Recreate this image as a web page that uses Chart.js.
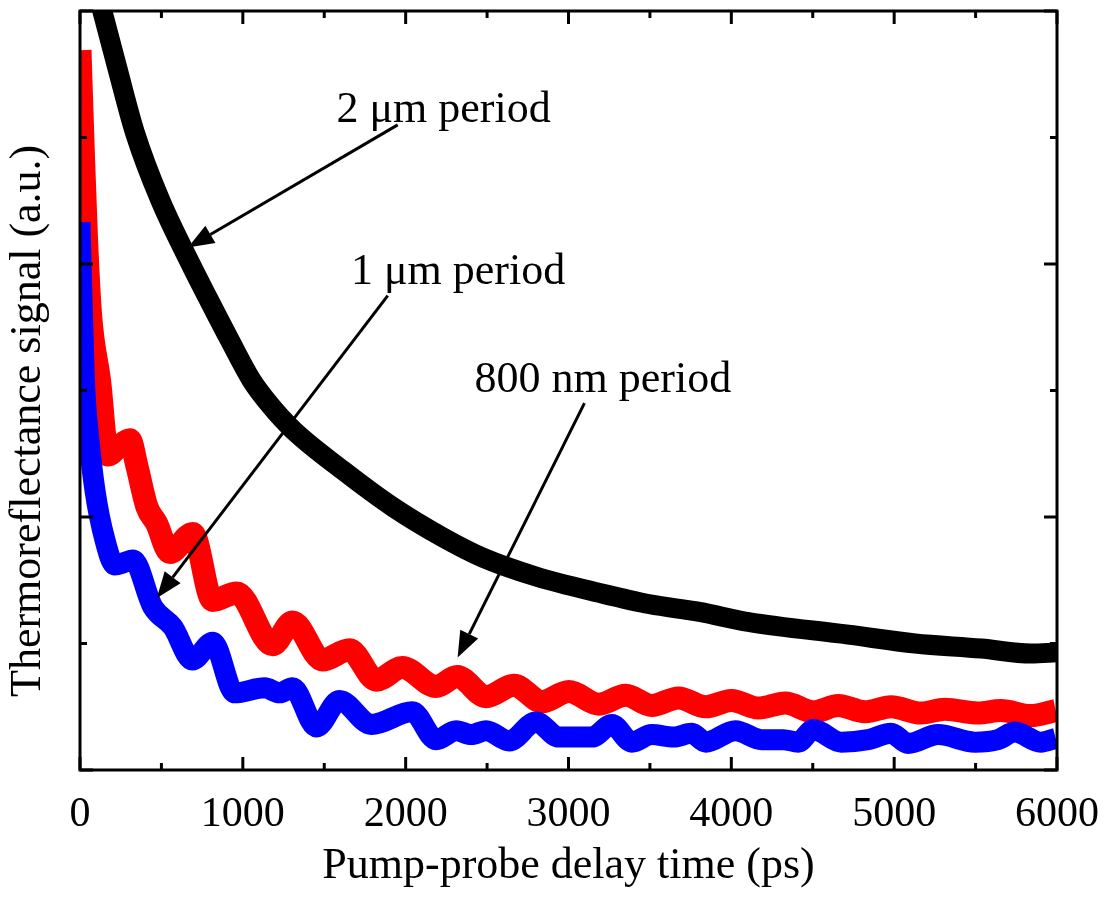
<!DOCTYPE html>
<html>
<head>
<meta charset="utf-8">
<script src="https://cdn.jsdelivr.net/npm/chart.js@4.4.1/dist/chart.umd.min.js"></script>
<style>
  html, body { margin: 0; padding: 0; background: #fff; }
</style>
</head>
<body>
<canvas id="chart" width="1111" height="897"></canvas>
<script>
// delay time (ps) and signal (a.u.)
const blackT = [60, 141, 227, 337, 491, 687, 790, 919, 1054, 1164, 1307, 1613, 1920, 2227, 2472, 2800, 3190, 3500, 3804, 4105, 4718, 5129, 5535, 5840, 6000];
const blackV = [6.4, 5.98, 5.56, 5.04, 4.51, 3.98, 3.72, 3.40, 3.08, 2.89, 2.69, 2.37, 2.08, 1.84, 1.68, 1.53, 1.40, 1.31, 1.25, 1.17, 1.07, 1.00, 0.96, 0.92, 0.93];

const redT = [0, 20, 40, 65, 120, 172, 240, 306, 350, 411, 470, 551, 692, 815, 962, 1183, 1305, 1489, 1654, 1820, 1979, 2187, 2316, 2494, 2665, 2837, 3002, 3186, 3351, 3511, 3676, 3842, 4001, 4166, 4332, 4503, 4657, 4822, 4981, 5165, 5312, 5514, 5655, 5839, 5992];
const redV = [5.69, 4.9, 4.2, 3.6, 3.08, 2.49, 2.56, 2.61, 2.40, 2.08, 1.95, 1.72, 1.87, 1.34, 1.40, 0.99, 1.17, 0.87, 0.95, 0.71, 0.81, 0.66, 0.74, 0.58, 0.67, 0.54, 0.62, 0.52, 0.59, 0.51, 0.57, 0.50, 0.55, 0.49, 0.53, 0.46, 0.51, 0.46, 0.50, 0.45, 0.48, 0.45, 0.47, 0.43, 0.47];

const blueT = [0, 15, 30, 49, 92, 153, 214, 270, 325, 447, 570, 690, 815, 950, 1134, 1225, 1305, 1452, 1593, 1790, 2040, 2187, 2310, 2402, 2494, 2635, 2800, 2941, 3143, 3266, 3389, 3511, 3646, 3756, 3842, 4025, 4185, 4320, 4411, 4503, 4675, 4840, 4981, 5086, 5270, 5496, 5637, 5741, 5900, 5992];
const blueV = [4.33, 3.6, 3.0, 2.69, 2.21, 1.82, 1.62, 1.64, 1.66, 1.29, 1.13, 0.87, 1.01, 0.61, 0.65, 0.61, 0.65, 0.34, 0.55, 0.36, 0.46, 0.24, 0.31, 0.28, 0.31, 0.23, 0.38, 0.26, 0.26, 0.36, 0.22, 0.28, 0.26, 0.29, 0.22, 0.31, 0.24, 0.24, 0.22, 0.32, 0.22, 0.24, 0.29, 0.21, 0.28, 0.22, 0.24, 0.30, 0.22, 0.25];

const xTicks = [0, 1000, 2000, 3000, 4000, 5000, 6000];

// annotation text (centre x, baseline y) and arrows, in data units
const noteText = ['2 μm period', '1 μm period', '800 nm period'];
const noteX = [2233, 2322, 3211];
const noteY = [5.12, 3.84, 2.99];
const arrowFrom = [[1951, 5.10], [1890, 3.75], [3098, 2.90]];
const arrowTo = [[663, 4.13], [472, 1.36], [2319, 0.89]];

const SERIF = '"Liberation Serif", "Times New Roman", serif';

const pts = (ts, vs) => ts.map((t, i) => ({ x: t, y: vs[i] }));

function line(ctx, x0, y0, x1, y1) {
  ctx.beginPath();
  ctx.moveTo(x0, y0);
  ctx.lineTo(x1, y1);
  ctx.stroke();
}

// box round the plot with inward ticks on all four sides
const frame = {
  id: 'frame',
  afterDatasetsDraw(chart) {
    const { ctx, chartArea: { left, right, top, bottom }, scales: { x, y } } = chart;
    ctx.save();
    ctx.strokeStyle = '#000';
    ctx.lineWidth = 3;
    ctx.lineCap = 'butt';
    for (let t = 0; t <= 6000; t += 500) {
      const px = x.getPixelForValue(t);
      const len = t % 1000 === 0 ? 13 : 7;
      line(ctx, px, bottom, px, bottom - len);
      line(ctx, px, top, px, top + len);
    }
    for (let v = 0; v <= 6; v++) {
      const py = y.getPixelForValue(v);
      const len = v % 2 === 0 ? 13 : 7;
      line(ctx, left, py, left + len, py);
      line(ctx, right, py, right - len, py);
    }
    ctx.strokeRect(left, top, right - left, bottom - top);
    ctx.restore();
  },
};

const notes = {
  id: 'notes',
  afterDraw(chart) {
    const { ctx, chartArea: { left }, scales: { x, y } } = chart;
    ctx.save();
    ctx.fillStyle = '#000';
    ctx.strokeStyle = '#000';
    ctx.font = '44px ' + SERIF;
    ctx.textAlign = 'center';
    ctx.textBaseline = 'alphabetic';
    noteText.forEach((s, i) => ctx.fillText(s, x.getPixelForValue(noteX[i]), y.getPixelForValue(noteY[i])));

    ctx.lineWidth = 3;
    arrowFrom.forEach((f, i) => {
      const x0 = x.getPixelForValue(f[0]), y0 = y.getPixelForValue(f[1]);
      const x1 = x.getPixelForValue(arrowTo[i][0]), y1 = y.getPixelForValue(arrowTo[i][1]);
      const a = Math.atan2(y1 - y0, x1 - x0);
      const hl = 26, hw = 10;
      const bx = x1 - hl * Math.cos(a), by = y1 - hl * Math.sin(a);
      line(ctx, x0, y0, bx, by);
      ctx.beginPath();
      ctx.moveTo(x1, y1);
      ctx.lineTo(bx + hw * Math.sin(a), by - hw * Math.cos(a));
      ctx.lineTo(bx - hw * Math.sin(a), by + hw * Math.cos(a));
      ctx.closePath();
      ctx.fill();
    });

    // y axis title
    ctx.translate(left - 52, y.getPixelForValue(2.76));
    ctx.rotate(-Math.PI / 2);
    ctx.textBaseline = 'middle';
    ctx.fillText('Thermoreflectance signal (a.u.)', 0, 0);
    ctx.restore();
  },
};

new Chart(document.getElementById('chart'), {
  type: 'line',
  data: {
    datasets: [
      { label: '800 nm period', data: pts(blueT, blueV), borderColor: '#0000ff', borderWidth: 21, clip: 0 },
      { label: '1 μm period', data: pts(redT, redV), borderColor: '#ff0000', borderWidth: 23, clip: 0 },
      { label: '2 μm period', data: pts(blackT, blackV), borderColor: '#000000', borderWidth: 20, clip: 0 },
    ],
  },
  options: {
    responsive: false,
    animation: false,
    devicePixelRatio: 1,
    layout: { padding: { top: 11, left: 0, right: 0, bottom: 0 } },
    elements: {
      line: { cubicInterpolationMode: 'monotone', borderJoinStyle: 'round', borderCapStyle: 'butt', fill: false },
      point: { radius: 0, hoverRadius: 0 },
    },
    plugins: { legend: { display: false }, tooltip: { enabled: false } },
    scales: {
      x: {
        type: 'linear', position: 'bottom', min: 0, max: 6000,
        grid: { display: false }, border: { display: false },
        afterBuildTicks: (s) => { s.ticks = xTicks.map((v) => ({ value: v })); },
        ticks: { padding: 12, maxRotation: 0, color: '#000', font: { family: SERIF, size: 42 }, callback: (v) => String(v) },
        title: { display: true, text: 'Pump-probe delay time (ps)', color: '#000', font: { family: SERIF, size: 44, lineHeight: 1 }, padding: { top: 0, bottom: 9 } },
        afterFit: (s) => { s.height = 127; },
      },
      y: {
        position: 'left', min: 0, max: 6,
        grid: { display: false }, border: { display: false },
        ticks: { display: false, stepSize: 1 },
        afterFit: (s) => { s.width = 80; },
      },
      y2: {
        position: 'right', min: 0, max: 6,
        grid: { display: false }, border: { display: false },
        ticks: { display: false, stepSize: 1 },
        afterFit: (s) => { s.width = 53; },
      },
    },
  },
  plugins: [frame, notes],
});
</script>
</body>
</html>
